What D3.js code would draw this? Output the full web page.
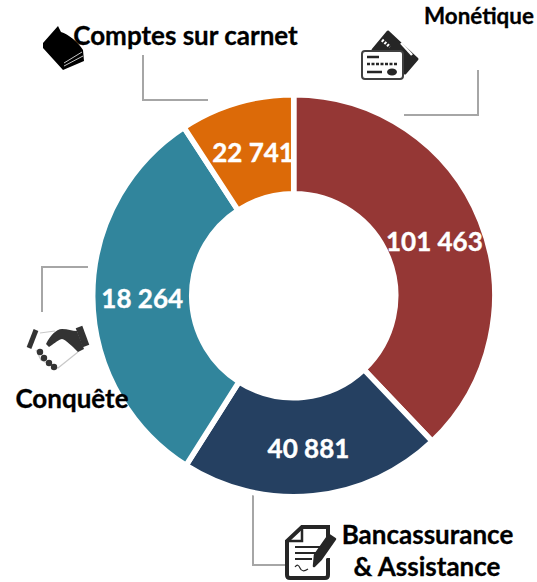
<!DOCTYPE html>
<html>
<head>
<meta charset="utf-8">
<title>Donut</title>
<script src="https://cdnjs.cloudflare.com/ajax/libs/d3/7.0.4/d3.min.js"></script>
<style>
  html, body { margin: 0; background: #fff; }
  svg { display: block; }
  text { font-family: Lato, Carlito, sans-serif; font-weight: 700; }
</style>
</head>
<body>
<script>
// sliceShare = angle share (the printed numbers do not add up to these slices)
const categories = ["Monétique", "Bancassurance & Assistance", "Conquête", "Comptes sur carnet"];
const sliceShare = [37.9, 21.1, 31.8, 9.2];
const valueLabels = ["101 463", "40 881", "18 264", "22 741"];
const sliceColors = ["#953735", "#254061", "#31859c", "#dc6a08"];

const w = 537;
const h = 582;
const cx = 293.7;
const cy = 295.7;
const outer = 201;
const inner = 102;

const svg = d3.select("body").append("svg")
  .attr("width", w)
  .attr("height", h);

// connectors go under everything
const connectors = [
  "M143,55V100H208",
  "M478,70V115H404",
  "M88,267H42V312",
  "M253,490V565H285"
];
svg.selectAll("path.conn")
  .data(connectors)
  .enter()
  .append("path")
  .attr("class", "conn")
  .attr("d", d => d)
  .attr("fill", "none")
  .attr("stroke", "#a6a6a6")
  .attr("stroke-width", 2);

const pie = d3.pie().sort(null).value(d => d);
const arc = d3.arc().innerRadius(inner).outerRadius(outer);
const arcs = pie(sliceShare);

const donut = svg.append("g")
  .attr("transform", "translate(" + cx + "," + cy + ")");

donut.selectAll("path")
  .data(arcs)
  .enter()
  .append("path")
  .attr("d", arc)
  .attr("fill", (d, i) => sliceColors[i])
  .attr("stroke", "#fff")
  .attr("stroke-width", 5.5);

donut.selectAll("text")
  .data(arcs)
  .enter()
  .append("text")
  .attr("transform", (d, i) => {
    const c = arc.centroid(d);
    // the orange label sits a bit right of its slice centre
    return "translate(" + (c[0] + (i === 3 ? 2.5 : 0)) + "," + c[1] + ")";
  })
  .attr("dy", "0.44em")
  .attr("text-anchor", "middle")
  .attr("fill", "#fff")
  .attr("stroke", "#fff")
  .attr("stroke-width", 0.4)
  .attr("font-size", 26)
  .text((d, i) => valueLabels[i]);

// icons
const book = svg.append("g");
book.append("path")
  .attr("d", "M43,43L58,26L61,32C68,34 78,42 83,50L84,61L63,70L43,48Z")
  .attr("fill", "#000");
book.append("path")
  .attr("d", "M64,63L82,52M64,66L83,56")
  .attr("stroke", "#ddd")
  .attr("stroke-width", 0.9)
  .attr("fill", "none");

const card = svg.append("g");
card.append("path")
  .attr("d", "M388,32L417,59L405,73L373,50Z")
  .attr("fill", "#262626")
  .attr("stroke", "#262626")
  .attr("stroke-width", 3)
  .attr("stroke-linejoin", "round");
card.append("path")
  .attr("d", "M401,43L412,55")
  .attr("stroke", "#fff")
  .attr("stroke-width", 2.5);
card.append("path")
  .attr("d", "M382,40L390,47")
  .attr("stroke", "#fff")
  .attr("stroke-width", 3)
  .attr("stroke-dasharray", "2 1.5");
card.append("rect")
  .attr("x", 362).attr("y", 51)
  .attr("width", 41).attr("height", 28)
  .attr("rx", 3)
  .attr("fill", "#fff")
  .attr("stroke", "#404040")
  .attr("stroke-width", 2);
card.append("path")
  .attr("d", "M367,57H379M367,72H382")
  .attr("stroke", "#262626")
  .attr("stroke-width", 2.5);
card.append("path")
  .attr("d", "M367,64H398")
  .attr("stroke", "#262626")
  .attr("stroke-width", 2.5)
  .attr("stroke-dasharray", "3 1.5");
card.append("ellipse")
  .attr("cx", 392).attr("cy", 72)
  .attr("rx", 5).attr("ry", 3.5)
  .attr("fill", "#262626");

const hands = svg.append("g");
hands.append("path")
  .attr("d", "M40,333L55,331M36,350L41,360L58,368L78,352")
  .attr("fill", "none")
  .attr("stroke", "#c8c8c8")
  .attr("stroke-width", 1.2);
hands.append("path")
  .attr("d", "M36,330L29,348")
  .attr("stroke", "#333")
  .attr("stroke-width", 5);
hands.append("path")
  .attr("d", "M79,327L86,346")
  .attr("stroke", "#333")
  .attr("stroke-width", 7);
hands.append("path")
  .attr("d", "M46,344C50,336 56,329 62,329C68,329 72,331 77,331L84,349L78,352C72,346 66,340 62,339C57,340 53,345 49,347Z")
  .attr("fill", "#333");
hands.selectAll("circle")
  .data([[40, 352], [44, 358], [49, 363], [54, 367]])
  .enter()
  .append("circle")
  .attr("cx", d => d[0])
  .attr("cy", d => d[1])
  .attr("r", 3.2)
  .attr("fill", "#333");

const doc = svg.append("g");
doc.append("path")
  .attr("d", "M328,541V527H302L287,541V575Q287,578 290,578H325Q328,578 328,575V558")
  .attr("fill", "#fff")
  .attr("stroke", "#262626")
  .attr("stroke-width", 4);
doc.append("path")
  .attr("d", "M302,527V541H287")
  .attr("fill", "none")
  .attr("stroke", "#262626")
  .attr("stroke-width", 2.5);
doc.append("path")
  .attr("d", "M295,547H320M295,553H317M295,559H312")
  .attr("stroke", "#262626")
  .attr("stroke-width", 2);
doc.append("path")
  .attr("d", "M295,567Q298,563 300,568T308,569")
  .attr("fill", "none")
  .attr("stroke", "#262626")
  .attr("stroke-width", 1.2);
doc.append("path")
  .attr("d", "M335,538L317,562")
  .attr("stroke", "#fff")
  .attr("stroke-width", 11);
doc.append("path")
  .attr("d", "M335,539L321,559L314,566L315,555L329,535Z")
  .attr("fill", "#262626")
  .attr("stroke", "#262626")
  .attr("stroke-width", 2.5)
  .attr("stroke-linejoin", "round");

// category names sit above the icons and the slices
const names = [
  { t: categories[3], x: 185.5, y: 45, s: 26 },
  { t: categories[0], x: 479, y: 24, s: 22.4 },
  { t: categories[2], x: 72, y: 408, s: 26 },
  { t: "Bancassurance", x: 427.5, y: 544, s: 26 },
  { t: "& Assistance", x: 427, y: 576, s: 26 }
];
svg.selectAll("text.name")
  .data(names)
  .enter()
  .append("text")
  .attr("class", "name")
  .attr("x", d => d.x)
  .attr("y", d => d.y)
  .attr("text-anchor", "middle")
  .attr("font-size", d => d.s)
  .attr("fill", "#000")
  .attr("stroke", "#000")
  .attr("stroke-width", 0.3)
  .text(d => d.t);
</script>
</body>
</html>
